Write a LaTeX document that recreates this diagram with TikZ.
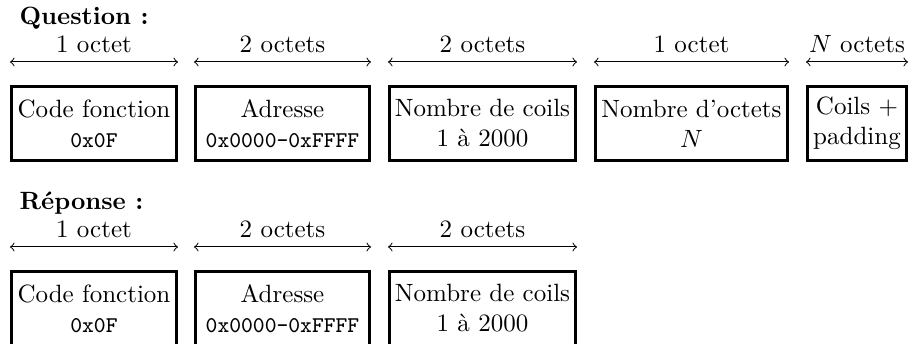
\documentclass[tikz,border=0pt]{standalone}

\begin{document}
\begin{tikzpicture}[x=0.4pt, y=-0.4pt, champ/.style={draw, very thick, align=center, inner sep=0pt, minimum height=29.6pt}, titre/.style={anchor=base west, inner sep=0pt, font=\bfseries}]
	\useasboundingbox (0,0) rectangle (909,344);

	% Question
	\node[titre] (TQ) at (19,25) {Question :};
	\coordinate (Q) at (0,62);
	\node[champ, minimum width=66pt] (Q1) at (94,123.5) {Code fonction\\{\small\texttt{0x0F}}};
	\node[champ, minimum width=69.6pt] (Q2) at (282.5,123.5) {Adresse\\{\small\texttt{0x0000-0xFFFF}}};
	\node[champ, minimum width=74.4pt] (Q3) at (482.5,123.5) {Nombre de coils\\1 à 2000};
	\node[champ, minimum width=76.8pt] (Q4) at (691.5,123.5) {Nombre d'octets\\$N$};
	\node[champ, minimum width=39.6pt] (Q5) at (857,123.5) {Coils $+$\\padding};

	\draw[<->] (Q1.west |- Q) -- node[above] {1 octet} (Q1.east |- Q);
	\draw[<->] (Q2.west |- Q) -- node[above] {2 octets} (Q2.east |- Q);
	\draw[<->] (Q3.west |- Q) -- node[above] {2 octets} (Q3.east |- Q);
	\draw[<->] (Q4.west |- Q) -- node[above] {1 octet} (Q4.east |- Q);
	\draw[<->] (Q5.west |- Q) -- node[above] {$N$ octets} (Q5.east |- Q);

	% Reponse
	\node[titre] (TR) at (19,210) {Réponse :};
	\coordinate (R) at (0,247);
	\node[champ, minimum width=66pt] (R1) at (94,308.5) {Code fonction\\{\small\texttt{0x0F}}};
	\node[champ, minimum width=69.6pt] (R2) at (282.5,308.5) {Adresse\\{\small\texttt{0x0000-0xFFFF}}};
	\node[champ, minimum width=74.4pt] (R3) at (482.5,308.5) {Nombre de coils\\1 à 2000};

	\draw[<->] (R1.west |- R) -- node[above] {1 octet} (R1.east |- R);
	\draw[<->] (R2.west |- R) -- node[above] {2 octets} (R2.east |- R);
	\draw[<->] (R3.west |- R) -- node[above] {2 octets} (R3.east |- R);
\end{tikzpicture}
\end{document}
